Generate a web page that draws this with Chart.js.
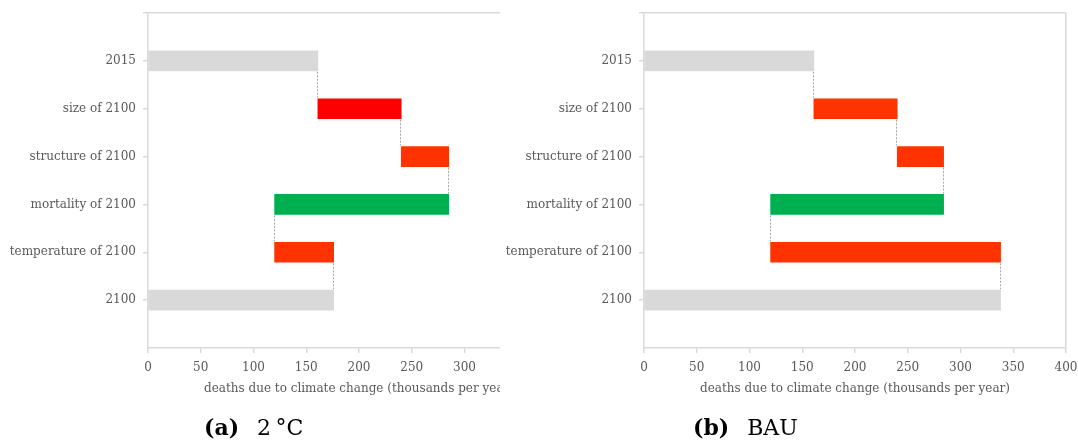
<!DOCTYPE html>
<html>
<head>
<meta charset="utf-8">
<script src="https://cdn.jsdelivr.net/npm/chart.js@4"></script>
<style>
  html, body { margin: 0; padding: 0; background: #fff; width: 1078px; height: 441px; overflow: hidden; }
  #wrapA { position: absolute; left: 0; top: 0; width: 500px; height: 441px; overflow: hidden; }
  #wrapB { position: absolute; left: 496px; top: 0; width: 582px; height: 441px; overflow: hidden; }
  canvas { position: absolute; left: 0; top: 0; }
  .cap { position: absolute; top: 414px; font-family: "DejaVu Serif", serif; font-size: 22px; line-height: 26px; color: #000; white-space: nowrap; }
  .cap b { font-weight: bold; margin-right: 18px; }
</style>
</head>
<body>
<div id="wrapA"><canvas id="cA" width="582" height="441"></canvas></div>
<div id="wrapB"><canvas id="cB" width="582" height="441"></canvas></div>
<div class="cap" style="left:204px"><b>(a)</b>2&#8201;°C</div>
<div class="cap" style="left:693px"><b>(b)</b>BAU</div>
<script>
// ---- data ----
const categories = ['2015', 'size of 2100', 'structure of 2100', 'mortality of 2100', 'temperature of 2100', '2100'];
// running totals (thousands of deaths per year) after 2015 and after each factor
const levels2C  = [161, 240, 285, 120, 176];
const levelsBAU = [161, 240, 284, 120, 338];
const xTicksMax = 400;
const xTickStep = 50;
const axisTitle = 'deaths due to climate change (thousands per year)';

const GREY = '#d9d9d9', RED = '#ff0000', ORANGE = '#ff3300', GREEN = '#00b050';
const colors2C  = [GREY, RED, ORANGE, GREEN, ORANGE, GREY];
const colorsBAU = [GREY, ORANGE, ORANGE, GREEN, ORANGE, GREY];

// waterfall bars from running totals
function waterfall(levels) {
  const bars = [[0, levels[0]]];
  for (let j = 1; j < levels.length; j++) bars.push([levels[j - 1], levels[j]]);
  bars.push([0, levels[levels.length - 1]]);
  return bars;
}

const connectorPlugin = {
  id: 'connectors',
  afterDatasetsDraw(chart, args, opts) {
    const meta = chart.getDatasetMeta(0);
    const xs = chart.scales.x;
    const levels = opts.levels;
    const ctx = chart.ctx;
    ctx.save();
    ctx.strokeStyle = '#a6a6a6';
    ctx.lineWidth = 1;
    ctx.setLineDash([2, 1.5]);
    for (let c = 0; c < levels.length; c++) {
      const a = meta.data[c + 1], b = meta.data[c + 2];
      if (!a || !b) continue;
      const x = Math.round(xs.getPixelForValue(levels[c])) - 0.5;
      ctx.beginPath();
      ctx.moveTo(x, a.y + a.height / 2 + 1);
      ctx.lineTo(x, b.y - b.height / 2 - 1);
      ctx.stroke();
    }
    ctx.restore();
  }
};

function makeChart(id, levels, colors) {
  const labels = [''].concat(categories, ['']);
  const data = [null].concat(waterfall(levels), [null]);
  const bg = [null].concat(colors, [null]);
  const lastIdx = labels.length - 1;
  const font = { family: '"DejaVu Serif", serif', size: 12 };
  return new Chart(document.getElementById(id), {
    type: 'bar',
    data: { labels, datasets: [{ data, backgroundColor: bg, barThickness: 20, borderWidth: 0 }] },
    plugins: [connectorPlugin],
    options: {
      indexAxis: 'y',
      responsive: false,
      animation: false,
      layout: { padding: { top: 13, right: 12, bottom: 45, left: 0 } },
      plugins: { legend: { display: false }, tooltip: { enabled: false }, connectors: { levels } },
      scales: {
        y: {
          type: 'category',
          offset: false,
          afterFit(s) { s.width = 148; s.paddingTop = 0; s.paddingBottom = 0; },
          border: { color: '#d9d9d9', width: 1.5 },
          grid: {
            offset: false,
            color: (c) => c.index === 0 ? '#d9d9d9' : 'rgba(0,0,0,0)',
            lineWidth: 1.5,
            tickColor: (c) => c.index === lastIdx ? 'rgba(0,0,0,0)' : '#d9d9d9',
            tickLength: 5,
            drawTicks: true
          },
          ticks: { color: '#595959', font, padding: 7, autoSkip: false }
        },
        x: {
          min: 0, max: xTicksMax,
          afterFit(s) { s.height = 48; s.paddingLeft = 0; s.paddingRight = 0; },
          border: { color: '#d9d9d9', width: 1.5 },
          grid: {
            color: (c) => (c.tick && c.tick.value === xTicksMax) ? '#d9d9d9' : 'rgba(0,0,0,0)',
            lineWidth: 1.5,
            tickColor: '#d9d9d9',
            tickLength: 5
          },
          ticks: { stepSize: xTickStep, color: '#595959', font, padding: 8, maxRotation: 0 },
          title: { display: true, text: axisTitle, color: '#595959', font, padding: { top: 0, bottom: 0 } }
        }
      }
    }
  });
}

makeChart('cA', levels2C, colors2C);
makeChart('cB', levelsBAU, colorsBAU);
</script>
</body>
</html>
